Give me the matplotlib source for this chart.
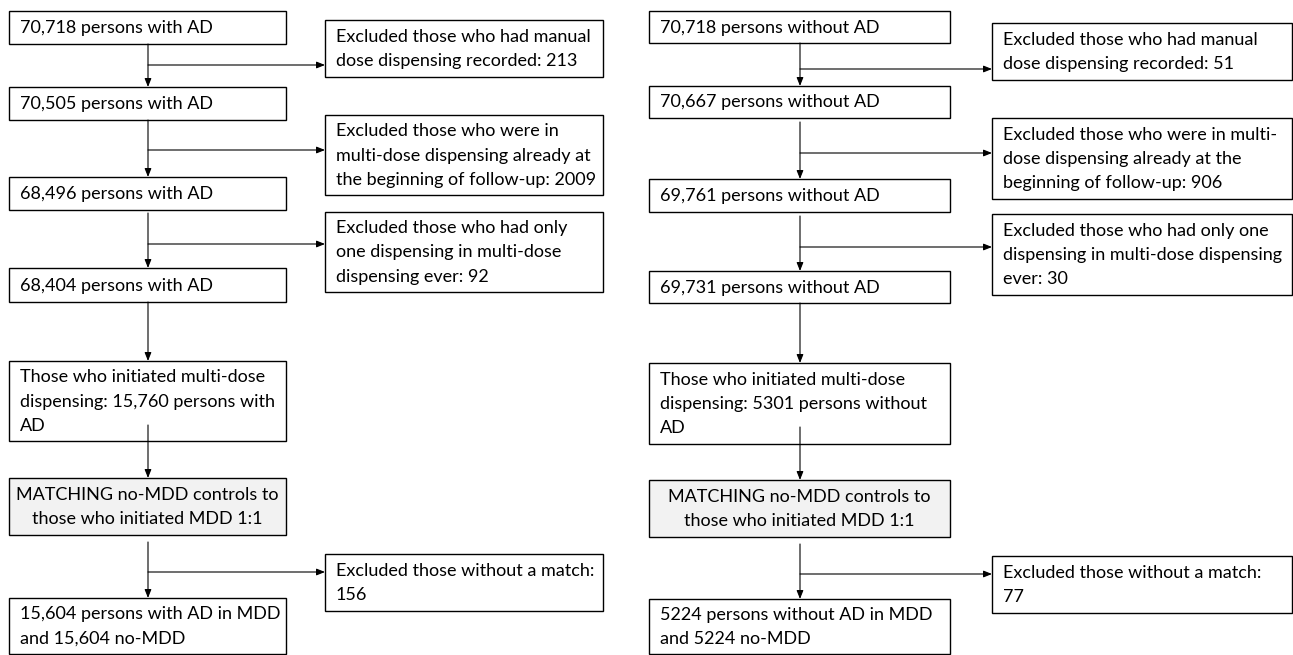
import matplotlib
matplotlib.use("Agg")
import matplotlib.pyplot as plt
from matplotlib.patches import Rectangle

# ---- data ----
left_counts = [70718, 70505, 68496, 68404, 15760, 15604]
right_counts = [70718, 70667, 69761, 69731, 5301, 5224]
left_excluded = [213, 2009, 92, 156]
right_excluded = [51, 906, 30, 77]


def fmt(n):
    return f"{n:,}" if n >= 10000 else str(n)


left_main = [
    f"{fmt(left_counts[0])} persons with AD",
    f"{fmt(left_counts[1])} persons with AD",
    f"{fmt(left_counts[2])} persons with AD",
    f"{fmt(left_counts[3])} persons with AD",
    f"Those who initiated multi-dose\ndispensing: {fmt(left_counts[4])} persons with\nAD",
    "MATCHING no-MDD controls to\nthose who initiated MDD 1:1",
    f"{fmt(left_counts[5])} persons with AD in MDD\nand {fmt(left_counts[5])} no-MDD",
]
right_main = [
    f"{fmt(right_counts[0])} persons without AD",
    f"{fmt(right_counts[1])} persons without AD",
    f"{fmt(right_counts[2])} persons without AD",
    f"{fmt(right_counts[3])} persons without AD",
    f"Those who initiated multi-dose\ndispensing: {fmt(right_counts[4])} persons without\nAD",
    "MATCHING no-MDD controls to\nthose who initiated MDD 1:1",
    f"{fmt(right_counts[5])} persons without AD in MDD\nand {fmt(right_counts[5])} no-MDD",
]
left_excl = [
    f"Excluded those who had manual\ndose dispensing recorded: {left_excluded[0]}",
    f"Excluded those who were in\nmulti-dose dispensing already at\nthe beginning of follow-up: {left_excluded[1]}",
    f"Excluded those who had only\none dispensing in multi-dose\ndispensing ever: {left_excluded[2]}",
    f"Excluded those without a match:\n{left_excluded[3]}",
]
right_excl = [
    f"Excluded those who had manual\ndose dispensing recorded: {right_excluded[0]}",
    f"Excluded those who were in multi-\ndose dispensing already at the\nbeginning of follow-up: {right_excluded[1]}",
    f"Excluded those who had only one\ndispensing in multi-dose dispensing\never: {right_excluded[2]}",
    f"Excluded those without a match:\n{right_excluded[3]}",
]

# ---- layout (pixel coordinates) ----
W, H = 1293, 655
FONT = "Lato"
FS = 13
LS = 1.62

fig = plt.figure(figsize=(W / 100, H / 100), dpi=100)
ax = fig.add_axes([0, 0, 1, 1])
ax.set_xlim(0, W)
ax.set_ylim(H, 0)
ax.axis("off")


def box(x0, y0, x1, y1, text, fill="white", center=False):
    ax.add_patch(Rectangle((x0, y0), x1 - x0, y1 - y0, facecolor=fill,
                           edgecolor="black", lw=1.0, zorder=2))
    if center:
        ax.text((x0 + x1) / 2, (y0 + y1) / 2 + 0.5, text, ha="center", va="center",
                fontsize=FS, family=FONT, linespacing=LS, multialignment="center",
                zorder=3)
    else:
        ax.text(x0 + 11, (y0 + y1) / 2 + 0.5, text, ha="left", va="center",
                fontsize=FS, family=FONT, linespacing=LS, zorder=3)


def arrow(x0, y0, x1, y1):
    ax.annotate("", xy=(x1, y1), xytext=(x0, y0),
                arrowprops=dict(arrowstyle="-|>,head_length=0.5,head_width=0.2",
                                color="black", lw=0.8, shrinkA=0, shrinkB=0),
                zorder=4)


def column(xl, xr, xe0, xe1, main, excl, mains_y, excl_y, branch_y, starts):
    xc = xl + 139 if xl < 600 else xl + 151
    for i, (t, (y0, y1)) in enumerate(zip(main, mains_y)):
        box(xl, y0, xr, y1, t, fill="#f2f2f2" if i == 5 else "white", center=(i == 5))
    for t, (y0, y1) in zip(excl, excl_y):
        box(xe0, y0, xe1, y1, t)
    # vertical arrows
    for i in range(6):
        arrow(xc, starts[i], xc, mains_y[i + 1][0])
    # branches
    for by in branch_y:
        arrow(xc, by, xe0, by)


# left column
column(9, 286, 325, 603, left_main, left_excl,
       [(11, 44), (87, 120), (177, 210), (268, 302), (361, 441), (478, 535), (598, 654)],
       [(20, 77), (115, 195), (212, 292), (554, 611)],
       [65, 150, 244, 572],
       [44, 120, 213, 302, 425, 542])

# right column
column(649, 950, 992, 1292, right_main, right_excl,
       [(11, 43), (86, 118), (179, 212), (271, 303), (363, 444), (480, 537), (599, 654)],
       [(23, 80), (118, 199), (214, 295), (556, 613)],
       [69, 153, 247, 574],
       [43, 122, 216, 303, 427, 544])

fig.savefig("out.png", dpi=100)
